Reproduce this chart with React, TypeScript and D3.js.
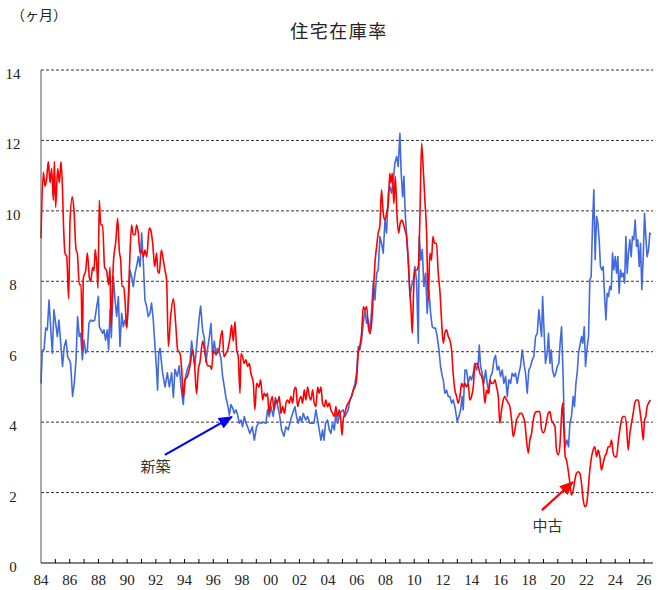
import * as d3 from "d3";

// 住宅在庫率 (months of inventory), [year, value]
const shinchiku: [number, number][] = [
  [1984.00,5.1],[1984.09,6.05],[1984.21,6.05],[1984.33,6.67],[1984.44,6.62],[1984.56,7.47],[1984.67,6.71],[1984.79,5.96],[1984.90,7.19],[1985.02,6.81],[1985.14,6.43],[1985.25,6.9],[1985.39,6.15],[1985.50,5.58],[1985.62,6.15],[1985.74,6.33],[1985.86,5.86],[1985.97,5.77],[1986.06,5.67],[1986.20,4.73],[1986.32,5.1],[1986.44,5.77],[1986.55,7.0],[1986.67,6.43],[1986.76,6.52],[1986.88,5.77],[1987.00,6.33],[1987.11,5.96],[1987.23,6.05],[1987.34,6.81],[1987.46,6.9],[1987.60,6.86],[1987.74,6.9],[1987.88,7.28],[1988.00,7.57],[1988.06,6.71],[1988.18,6.62],[1988.30,6.52],[1988.39,6.62],[1988.50,6.33],[1988.62,6.62],[1988.71,6.05],[1988.81,7.19],[1988.90,6.4],[1989.04,8.13],[1989.16,7.47],[1989.27,7.0],[1989.39,7.57],[1989.50,6.15],[1989.62,7.09],[1989.73,6.71],[1989.85,6.9],[1989.97,6.71],[1990.08,7.28],[1990.20,8.32],[1990.31,8.13],[1990.43,7.85],[1990.55,8.23],[1990.66,8.42],[1990.78,8.7],[1990.90,8.42],[1991.01,9.37],[1991.13,8.51],[1991.24,7.47],[1991.36,7.28],[1991.47,7.0],[1991.59,7.09],[1991.70,7.38],[1991.82,6.9],[1991.94,6.15],[1992.05,5.48],[1992.12,4.91],[1992.20,5.96],[1992.29,6.1],[1992.47,5.4],[1992.64,5.0],[1992.80,5.4],[1992.94,5.0],[1993.10,5.4],[1993.22,4.7],[1993.33,5.5],[1993.49,5.3],[1993.63,5.6],[1993.75,5.0],[1993.91,4.5],[1994.03,5.2],[1994.19,5.5],[1994.38,5.7],[1994.49,6.3],[1994.61,5.9],[1994.72,5.6],[1994.89,6.4],[1995.03,7.0],[1995.12,7.3],[1995.26,6.6],[1995.37,6.4],[1995.49,5.7],[1995.61,6.1],[1995.72,6.4],[1995.84,6.8],[1995.95,5.9],[1996.07,6.3],[1996.19,5.9],[1996.28,6.1],[1996.42,6.0],[1996.54,5.8],[1996.65,5.3],[1996.77,5.0],[1996.88,4.7],[1997.00,4.5],[1997.12,4.2],[1997.23,4.5],[1997.35,4.4],[1997.46,4.25],[1997.58,4.35],[1997.70,4.2],[1997.81,3.97],[1997.93,4.06],[1998.04,3.87],[1998.16,4.16],[1998.28,3.97],[1998.39,3.87],[1998.55,3.68],[1998.72,3.87],[1998.86,3.49],[1999.02,3.87],[1999.18,4.0],[1999.32,3.97],[1999.48,4.0],[1999.67,3.97],[1999.78,4.35],[1999.90,4.16],[2000.02,4.44],[2000.18,4.16],[2000.32,4.7],[2000.46,4.5],[2000.60,4.25],[2000.76,3.78],[2000.92,3.6],[2001.06,3.87],[2001.22,3.78],[2001.39,4.06],[2001.53,4.25],[2001.69,4.44],[2001.80,4.16],[2001.92,3.97],[2002.04,4.16],[2002.15,4.0],[2002.27,4.25],[2002.43,4.06],[2002.57,4.16],[2002.73,3.97],[2002.85,3.97],[2003.01,3.97],[2003.15,4.35],[2003.27,4.06],[2003.38,3.78],[2003.50,3.49],[2003.61,3.78],[2003.71,3.49],[2003.82,3.97],[2003.96,4.06],[2004.08,3.78],[2004.19,3.68],[2004.31,3.97],[2004.43,3.78],[2004.54,4.25],[2004.66,3.97],[2004.78,4.16],[2004.90,4.3],[2005.05,4.35],[2005.17,4.16],[2005.29,4.25],[2005.40,4.35],[2005.52,4.63],[2005.63,4.73],[2005.75,4.91],[2005.87,5.1],[2005.98,5.39],[2006.10,6.15],[2006.21,6.05],[2006.33,6.33],[2006.45,6.81],[2006.56,7.19],[2006.68,6.81],[2006.80,6.9],[2006.91,6.52],[2007.03,7.19],[2007.14,7.95],[2007.26,7.47],[2007.38,8.23],[2007.49,8.32],[2007.61,9.27],[2007.72,9.08],[2007.84,8.8],[2007.96,9.74],[2008.07,9.37],[2008.19,10.5],[2008.30,10.69],[2008.42,10.5],[2008.54,10.88],[2008.65,11.35],[2008.77,11.54],[2008.88,11.26],[2009.00,12.2],[2009.09,11.07],[2009.19,10.4],[2009.28,10.98],[2009.37,9.93],[2009.46,9.37],[2009.58,8.6],[2009.70,7.57],[2009.81,7.85],[2009.93,8.04],[2010.04,8.42],[2010.16,8.04],[2010.28,6.24],[2010.35,9.27],[2010.46,8.6],[2010.56,8.9],[2010.67,7.85],[2010.79,8.23],[2010.90,7.09],[2011.02,7.76],[2011.14,7.09],[2011.25,6.71],[2011.37,6.67],[2011.48,6.67],[2011.60,6.43],[2011.72,6.05],[2011.83,5.58],[2011.95,5.3],[2012.02,5.2],[2012.13,4.82],[2012.25,4.91],[2012.37,4.73],[2012.48,4.73],[2012.60,4.54],[2012.71,4.63],[2012.83,4.44],[2012.99,4.02],[2013.11,4.16],[2013.23,4.35],[2013.34,4.73],[2013.41,4.35],[2013.53,5.48],[2013.64,5.48],[2013.76,5.1],[2013.88,5.3],[2013.99,5.2],[2014.11,5.39],[2014.22,5.67],[2014.34,5.48],[2014.46,5.67],[2014.53,6.19],[2014.62,5.58],[2014.73,5.39],[2014.85,5.1],[2014.97,5.48],[2015.08,5.1],[2015.20,4.82],[2015.31,5.3],[2015.43,5.39],[2015.55,5.77],[2015.66,5.9],[2015.78,5.48],[2015.89,5.58],[2016.01,5.3],[2016.13,5.48],[2016.24,5.1],[2016.36,5.3],[2016.48,4.73],[2016.59,5.2],[2016.71,5.1],[2016.82,5.39],[2016.94,5.3],[2017.05,5.39],[2017.17,5.1],[2017.29,5.39],[2017.40,5.58],[2017.52,6.05],[2017.64,5.67],[2017.75,5.39],[2017.87,4.82],[2017.98,5.48],[2018.10,5.58],[2018.22,5.77],[2018.33,5.86],[2018.45,6.43],[2018.57,6.52],[2018.68,7.19],[2018.75,6.9],[2018.87,6.43],[2018.94,7.57],[2019.03,6.71],[2019.14,5.67],[2019.26,5.96],[2019.35,6.52],[2019.45,5.67],[2019.54,6.05],[2019.63,5.48],[2019.75,5.29],[2019.86,5.39],[2019.96,5.58],[2020.07,5.67],[2020.16,6.24],[2020.26,6.71],[2020.37,5.29],[2020.44,4.06],[2020.51,3.3],[2020.63,3.49],[2020.75,3.3],[2020.84,3.97],[2020.95,4.16],[2021.07,4.73],[2021.16,4.44],[2021.26,5.1],[2021.35,5.39],[2021.44,5.96],[2021.53,6.15],[2021.65,6.43],[2021.74,6.24],[2021.84,6.71],[2021.93,5.58],[2022.05,6.15],[2022.14,6.43],[2022.23,8.04],[2022.32,8.13],[2022.42,9.65],[2022.51,10.6],[2022.60,8.61],[2022.70,9.84],[2022.79,9.65],[2022.88,9.18],[2022.97,8.42],[2023.07,8.32],[2023.16,8.42],[2023.25,7.66],[2023.35,6.9],[2023.44,7.66],[2023.53,7.57],[2023.62,7.85],[2023.72,7.76],[2023.81,8.8],[2023.90,8.32],[2024.00,8.7],[2024.09,8.23],[2024.18,8.7],[2024.27,7.66],[2024.37,8.32],[2024.46,8.13],[2024.55,8.23],[2024.65,7.95],[2024.74,9.27],[2024.83,8.23],[2024.92,8.8],[2025.02,9.18],[2025.11,8.7],[2025.20,9.27],[2025.29,9.18],[2025.39,9.74],[2025.48,8.99],[2025.57,9.18],[2025.67,8.42],[2025.76,9.08],[2025.85,7.76],[2025.95,8.7],[2026.04,9.93],[2026.13,9.27],[2026.22,8.7],[2026.32,8.9],[2026.41,9.37],[2026.48,9.32],
];

const chuko: [number, number][] = [
  [1984.00,9.22],[1984.16,11.1],[1984.28,10.7],[1984.39,10.9],[1984.51,11.4],[1984.63,10.8],[1984.74,11.2],[1984.86,10.3],[1984.93,11.4],[1985.02,10.1],[1985.16,11.2],[1985.28,10.8],[1985.39,11.4],[1985.49,10.7],[1985.56,9.7],[1985.67,8.8],[1985.79,8.7],[1985.93,7.5],[1986.02,9.7],[1986.18,10.4],[1986.30,10.0],[1986.44,8.9],[1986.53,8.8],[1986.67,7.9],[1986.79,7.9],[1986.88,6.05],[1986.95,8.1],[1987.11,8.3],[1987.23,8.8],[1987.37,8.1],[1987.46,8.0],[1987.60,8.4],[1987.69,8.3],[1987.78,8.9],[1987.88,8.5],[1987.97,7.8],[1988.06,10.3],[1988.16,9.6],[1988.29,9.6],[1988.43,8.4],[1988.57,8.3],[1988.71,7.9],[1988.81,8.4],[1988.87,6.71],[1989.04,8.51],[1989.22,9.18],[1989.34,9.79],[1989.46,8.84],[1989.55,8.61],[1989.64,7.85],[1989.76,7.85],[1989.85,7.47],[1989.97,6.67],[1990.06,7.28],[1990.20,8.8],[1990.31,9.6],[1990.43,9.32],[1990.55,9.32],[1990.66,9.6],[1990.78,9.37],[1990.90,8.8],[1991.01,8.89],[1991.13,8.7],[1991.24,8.89],[1991.36,8.7],[1991.54,9.51],[1991.64,9.46],[1991.78,9.08],[1991.92,8.42],[1992.05,8.8],[1992.14,8.28],[1992.24,8.23],[1992.38,8.89],[1992.52,8.61],[1992.64,8.3],[1992.75,8.04],[1992.87,6.15],[1993.03,7.0],[1993.22,7.5],[1993.38,6.8],[1993.52,6.05],[1993.68,5.95],[1993.80,5.5],[1993.91,4.7],[1994.03,5.2],[1994.19,5.3],[1994.38,5.6],[1994.56,6.05],[1994.70,5.6],[1994.84,4.8],[1994.96,5.5],[1995.07,5.7],[1995.26,6.3],[1995.37,6.1],[1995.49,5.8],[1995.61,5.6],[1995.77,5.6],[1995.89,5.5],[1996.00,6.05],[1996.12,5.95],[1996.23,5.95],[1996.40,6.05],[1996.51,6.4],[1996.63,6.6],[1996.74,5.86],[1996.88,5.95],[1997.00,6.05],[1997.16,6.4],[1997.28,6.76],[1997.39,6.3],[1997.51,6.86],[1997.63,6.05],[1997.74,5.86],[1997.86,4.82],[1997.93,5.95],[1998.04,5.86],[1998.16,5.67],[1998.28,5.77],[1998.39,5.58],[1998.51,5.67],[1998.62,5.39],[1998.79,5.1],[1998.90,4.35],[1999.02,5.1],[1999.18,5.0],[1999.30,5.2],[1999.44,4.63],[1999.55,4.82],[1999.67,4.73],[1999.78,4.82],[1999.88,4.25],[1999.99,4.54],[2000.11,4.73],[2000.23,4.35],[2000.37,4.63],[2000.46,4.54],[2000.60,4.73],[2000.71,4.25],[2000.83,4.44],[2000.97,4.25],[2001.06,4.54],[2001.18,4.63],[2001.29,4.54],[2001.41,4.73],[2001.53,4.54],[2001.64,4.92],[2001.76,5.0],[2001.87,4.44],[2001.99,4.63],[2002.11,4.73],[2002.22,4.54],[2002.34,4.92],[2002.45,4.63],[2002.57,5.0],[2002.69,4.73],[2002.80,4.63],[2002.92,4.92],[2003.03,4.54],[2003.15,4.44],[2003.27,5.0],[2003.38,4.82],[2003.50,5.0],[2003.61,4.54],[2003.73,4.44],[2003.84,4.63],[2003.96,4.44],[2004.08,4.54],[2004.19,4.35],[2004.31,4.25],[2004.43,4.16],[2004.54,4.44],[2004.66,4.16],[2004.78,4.35],[2004.88,4.06],[2004.97,3.63],[2005.05,4.06],[2005.17,4.25],[2005.28,4.44],[2005.40,4.54],[2005.52,4.63],[2005.63,4.73],[2005.75,4.91],[2005.87,5.0],[2005.98,5.2],[2006.10,5.96],[2006.20,6.15],[2006.33,6.52],[2006.45,7.28],[2006.56,7.19],[2006.68,7.28],[2006.80,6.71],[2006.91,6.52],[2007.03,6.81],[2007.14,7.57],[2007.26,8.51],[2007.38,8.99],[2007.49,9.37],[2007.60,9.55],[2007.72,10.6],[2007.84,9.93],[2007.96,9.74],[2008.07,9.93],[2008.19,10.2],[2008.30,11.07],[2008.37,10.79],[2008.47,11.07],[2008.58,10.2],[2008.68,10.98],[2008.79,9.93],[2008.91,9.37],[2009.02,9.65],[2009.14,9.74],[2009.23,9.65],[2009.35,9.46],[2009.46,9.27],[2009.58,8.6],[2009.70,7.66],[2009.79,7.09],[2009.86,6.52],[2009.95,7.66],[2010.04,8.32],[2010.16,8.32],[2010.28,8.42],[2010.39,9.74],[2010.51,11.92],[2010.63,11.16],[2010.74,10.31],[2010.86,9.37],[2010.97,7.47],[2011.09,8.8],[2011.20,8.6],[2011.30,9.27],[2011.41,9.08],[2011.55,9.08],[2011.67,8.23],[2011.79,7.7],[2011.90,6.9],[2012.02,6.24],[2012.13,6.52],[2012.25,6.62],[2012.37,6.43],[2012.48,6.33],[2012.60,6.05],[2012.71,5.39],[2012.83,4.91],[2012.95,4.73],[2013.06,4.54],[2013.18,4.73],[2013.30,5.1],[2013.41,5.0],[2013.53,5.1],[2013.64,5.0],[2013.76,5.1],[2013.87,4.63],[2013.99,4.73],[2014.11,5.0],[2014.22,5.58],[2014.34,5.67],[2014.46,5.58],[2014.57,5.39],[2014.69,5.3],[2014.80,5.1],[2014.92,4.54],[2015.04,4.91],[2015.15,4.82],[2015.27,5.2],[2015.38,5.1],[2015.50,5.1],[2015.62,5.2],[2015.73,5.0],[2015.85,4.73],[2015.96,3.97],[2016.08,4.35],[2016.20,4.63],[2016.31,4.73],[2016.43,4.63],[2016.55,4.54],[2016.66,4.44],[2016.78,4.06],[2016.89,3.59],[2017.01,3.78],[2017.12,4.06],[2017.24,4.16],[2017.36,4.25],[2017.47,4.25],[2017.59,4.16],[2017.71,3.97],[2017.82,3.49],[2017.94,3.12],[2018.05,3.49],[2018.17,3.68],[2018.29,4.06],[2018.40,4.25],[2018.52,4.3],[2018.63,4.3],[2018.75,4.3],[2018.87,3.78],[2018.98,3.7],[2019.10,3.78],[2019.21,4.02],[2019.33,4.25],[2019.45,4.3],[2019.56,4.06],[2019.68,3.97],[2019.80,3.87],[2019.91,3.21],[2020.03,3.07],[2020.14,3.3],[2020.23,3.97],[2020.33,4.54],[2020.42,3.78],[2020.51,3.02],[2020.60,2.93],[2020.72,2.64],[2020.84,2.26],[2020.95,1.93],[2021.07,2.07],[2021.19,2.36],[2021.30,2.55],[2021.42,2.59],[2021.53,2.55],[2021.65,2.26],[2021.77,1.79],[2021.88,1.6],[2022.00,1.65],[2022.11,2.07],[2022.23,2.64],[2022.35,3.02],[2022.46,3.21],[2022.58,3.3],[2022.70,3.02],[2022.81,3.21],[2022.93,3.02],[2023.04,2.64],[2023.16,2.83],[2023.27,3.02],[2023.39,3.12],[2023.51,3.3],[2023.62,3.3],[2023.74,3.49],[2023.86,3.12],[2023.97,3.02],[2024.09,3.02],[2024.20,3.4],[2024.32,3.78],[2024.44,4.06],[2024.55,4.16],[2024.67,4.16],[2024.79,3.87],[2024.90,3.21],[2025.02,3.68],[2025.13,3.97],[2025.25,4.25],[2025.36,4.54],[2025.48,4.63],[2025.60,4.63],[2025.71,4.35],[2025.83,3.97],[2025.95,3.49],[2026.04,4.06],[2026.13,4.16],[2026.22,4.44],[2026.32,4.54],[2026.45,4.63],
];

const yTicks = [0, 2, 4, 6, 8, 10, 12, 14];
const labelYears = [1984, 1986, 1988, 1990, 1992, 1994, 1996, 1998, 2000, 2002, 2004, 2006, 2008, 2010, 2012, 2014, 2016, 2018, 2020, 2022, 2024, 2026];

// callouts: text position, arrow tail, arrow tip (in data units)
const callouts = [
  { label: "新築", color: "#0000ff", text: [1991.97, 2.76], from: [1992.63, 3.07], to: [1997.3, 4.15] },
  { label: "中古", color: "#ff0000", text: [2019.29, 1.1], from: [2018.89, 1.5], to: [2021.05, 2.3] },
];

const width = 658;
const height = 590;
const left = 41;
const right = 653;
const top = 70;
const bottom = 563;

const serif = "'Liberation Serif', 'Times New Roman', serif";
const cjk = "'Noto Sans CJK JP', 'Noto Sans CJK SC', sans-serif";

export default function App() {
  const x = d3.scaleLinear().domain([1984, 2026.63]).range([left, right]);
  const y = d3.scaleLinear().domain([0, 14]).range([bottom, top]);

  const line = d3
    .line<[number, number]>()
    .x((d) => x(d[0]))
    .y((d) => y(d[1]));
  const smoothLine = d3
    .line<[number, number]>()
    .x((d) => x(d[0]))
    .y((d) => y(d[1]))
    .curve(d3.curveMonotoneX);

  const yearTicks = d3.range(1985, 2027);

  return (
    <svg width={width} height={height} style={{ position: "absolute", left: 0, top: 0, background: "#fff" }}>
      <defs>
        {callouts.map((c, i) => (
          <marker
            key={i}
            id={`head${i}`}
            markerUnits="userSpaceOnUse"
            markerWidth={14}
            markerHeight={12}
            refX={13}
            refY={6}
            orient="auto"
          >
            <path d="M0,0 L14,6 L0,12 Z" fill={c.color} />
          </marker>
        ))}
      </defs>

      {/* title and unit */}
      <text x={339} y={38} textAnchor="middle" fontFamily={cjk} fontSize={18} letterSpacing={1.5} fill="#222">
        住宅在庫率
      </text>
      <text x={39} y={20} textAnchor="middle" fontFamily={cjk} fontSize={14} fill="#222">
        （ヶ月）
      </text>

      {/* gridlines */}
      {yTicks
        .filter((t) => t > 0)
        .map((t) => (
          <line key={t} x1={left} x2={right} y1={y(t)} y2={y(t)} stroke="#333" strokeWidth={1} strokeDasharray="3,2" />
        ))}

      {/* y labels */}
      {yTicks.map((t) => (
        <text key={t} x={13} y={y(t) + 9} textAnchor="middle" fontFamily={serif} fontSize={15} fill="#222">
          {t}
        </text>
      ))}

      {/* series */}
      <path d={line(shinchiku) ?? ""} fill="none" stroke="#4169e1" strokeWidth={1.6} strokeLinejoin="round" />
      <path d={smoothLine(chuko) ?? ""} fill="none" stroke="#ff0000" strokeWidth={1.6} strokeLinejoin="round" />

      {/* axes */}
      <line x1={left} x2={left} y1={top} y2={bottom} stroke="#555" strokeWidth={1} />
      <line x1={left} x2={right} y1={bottom} y2={bottom} stroke="#000" strokeWidth={1} />
      {yearTicks.map((yr) => (
        <line key={yr} x1={x(yr)} x2={x(yr)} y1={bottom} y2={bottom - 4} stroke="#000" strokeWidth={1} />
      ))}
      {labelYears.map((yr) => (
        <text key={yr} x={x(yr)} y={585} textAnchor="middle" fontFamily={serif} fontSize={15} fill="#222">
          {String(yr % 100).padStart(2, "0")}
        </text>
      ))}

      {/* callouts */}
      {callouts.map((c, i) => (
        <g key={c.label}>
          <line
            x1={x(c.from[0])}
            y1={y(c.from[1])}
            x2={x(c.to[0])}
            y2={y(c.to[1])}
            stroke={c.color}
            strokeWidth={2.2}
            markerEnd={`url(#head${i})`}
          />
          <text
            x={x(c.text[0])}
            y={y(c.text[1])}
            textAnchor="middle"
            dominantBaseline="central"
            fontFamily={cjk}
            fontSize={15}
            fill="#333"
          >
            {c.label}
          </text>
        </g>
      ))}
    </svg>
  );
}
